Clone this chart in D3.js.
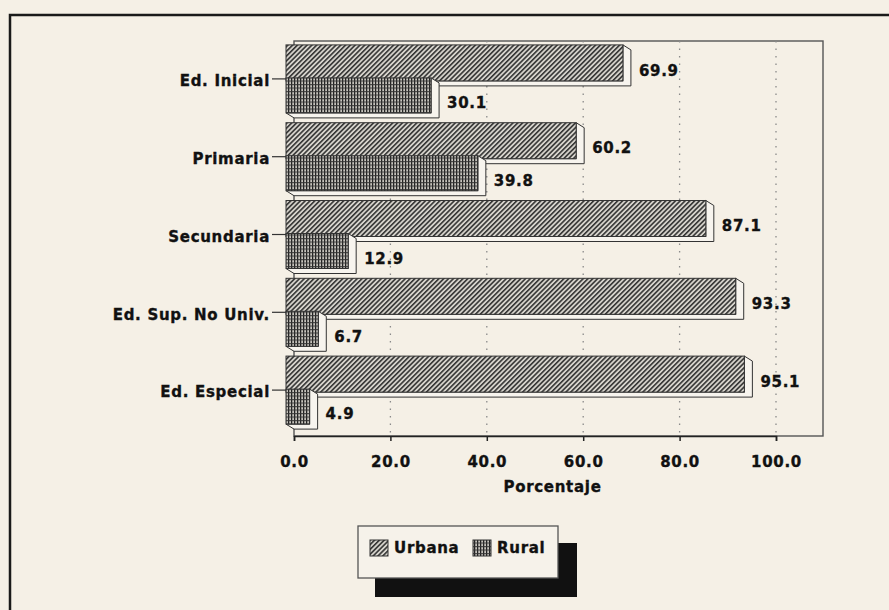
<!DOCTYPE html>
<html lang="es">
<head>
<meta charset="UTF-8" />
<title>Urbana / Rural por nivel</title>
<script src="https://d3js.org/d3.v7.min.js"></script>
<style>
  body { margin: 0; background: #f5f0e6; }
  svg { display: block; }
  text {
    font-family: "DejaVu Sans", sans-serif;
    font-weight: bold;
    font-size: 15px;
    letter-spacing: 0.7px;
    fill: #111;
    stroke: #111;
    stroke-width: 0.35px;
  }
</style>
</head>
<body>
<svg id="chart" width="889" height="610"></svg>
<script>
// data
const categories = ["Ed. Inicial", "Primaria", "Secundaria", "Ed. Sup. No Univ.", "Ed. Especial"];
const series = ["Urbana", "Rural"];
const urbana = [69.9, 60.2, 87.1, 93.3, 95.1];
const rural = [30.1, 39.8, 12.9, 6.7, 4.9];
const ticks = [0, 20, 40, 60, 80, 100];

const W = 889, H = 610;
const plot = { left: 294, right: 823, top: 41, bottom: 436 };
const depth = { dx: 8, dy: 5 };   // 3d offset front -> back
const barH = 36;

const svg = d3.select("#chart");
const defs = svg.append("defs");

// diagonal hatch for urbana
const pU = defs.append("pattern")
  .attr("id", "pat-urbana")
  .attr("patternUnits", "userSpaceOnUse")
  .attr("width", 3.4).attr("height", 3.4)
  .attr("patternTransform", "rotate(45)");
pU.append("rect").attr("width", 3.4).attr("height", 3.4).attr("fill", "#d6d3cc");
pU.append("line").attr("x1", 0.8).attr("x2", 0.8).attr("y1", 0).attr("y2", 3.4)
  .attr("stroke", "#2a2a2a").attr("stroke-width", 1.5);

// grid hatch for rural
const pR = defs.append("pattern")
  .attr("id", "pat-rural")
  .attr("patternUnits", "userSpaceOnUse")
  .attr("width", 3).attr("height", 3.5);
pR.append("rect").attr("width", 3).attr("height", 3.5).attr("fill", "#c8c5be");
pR.append("line").attr("x1", 0.6).attr("x2", 0.6).attr("y1", 0).attr("y2", 3.5)
  .attr("stroke", "#222").attr("stroke-width", 1.3);
pR.append("line").attr("x1", 0).attr("x2", 3).attr("y1", 0.6).attr("y2", 0.6)
  .attr("stroke", "#333").attr("stroke-width", 1);

const fills = { Urbana: "url(#pat-urbana)", Rural: "url(#pat-rural)" };

// outer page frame (only top and left show)
svg.append("path")
  .attr("d", `M10,${H} L10,15 L${W},15`)
  .attr("fill", "none").attr("stroke", "#1a1a1a").attr("stroke-width", 2.5);

const x = d3.scaleLinear().domain([0, 100]).range([plot.left, plot.left + 482]);
const y = d3.scaleBand().domain(categories).range([plot.top + 1, plot.bottom - 5]);

// back wall frame
svg.append("rect")
  .attr("x", plot.left).attr("y", plot.top)
  .attr("width", plot.right - plot.left).attr("height", plot.bottom - plot.top)
  .attr("fill", "none").attr("stroke", "#555").attr("stroke-width", 1.4);

// dotted grid
svg.append("g").selectAll("line")
  .data(ticks.slice(1))
  .join("line")
  .attr("x1", d => x(d)).attr("x2", d => x(d))
  .attr("y1", plot.top).attr("y2", plot.bottom)
  .attr("stroke", "#8a8a8a").attr("stroke-width", 1.3)
  .attr("stroke-dasharray", "1.5,6");

// bottom axis
const axis = svg.append("g").attr("transform", `translate(0,${plot.bottom})`)
  .call(d3.axisBottom(x).tickValues(ticks).tickFormat(d3.format(".1f")).tickSize(5).tickPadding(15));
axis.select(".domain").attr("stroke", "#222").attr("stroke-width", 1.5);
axis.selectAll(".tick line").attr("stroke", "#222").attr("stroke-width", 1.5);
axis.selectAll("text")
  .style("font-family", "DejaVu Sans, sans-serif")
  .style("font-weight", "bold").style("font-size", "15px")
  .style("letter-spacing", "0.7px").attr("fill", "#111");

svg.append("text")
  .attr("x", (plot.left + plot.right) / 2 - 6).attr("y", 492)
  .attr("text-anchor", "middle")
  .text("Porcentaje");

// bars
const rows = categories.map((c, i) => ({ cat: c, values: [urbana[i], rural[i]] }));
const barTop = (cat, s) => y(cat) + y.bandwidth() / 2 + (s === 0 ? -barH : -3);

const barG = svg.append("g");
rows.forEach(row => {
  row.values.forEach((v, s) => {
    const x0 = x(0) - depth.dx, x1 = x(v) - depth.dx;
    const y0 = barTop(row.cat, s), y1 = y0 + barH - (s === 0 ? 0 : 1);
    const g = barG.append("g");
    // side / bottom extrusion
    g.append("path")
      .attr("d", `M${x1},${y0} L${x1 + depth.dx},${y0 + depth.dy} L${x1 + depth.dx},${y1 + depth.dy}
                  L${x0 + depth.dx},${y1 + depth.dy} L${x0},${y1} L${x1},${y1} Z`)
      .attr("fill", "#f7f4ee").attr("stroke", "#333").attr("stroke-width", 1);
    g.append("rect")
      .attr("x", x0).attr("y", y0)
      .attr("width", x1 - x0).attr("height", y1 - y0)
      .attr("fill", fills[series[s]])
      .attr("stroke", "#333").attr("stroke-width", 1);
    g.append("text")
      .attr("x", x(v) + 8)
      .attr("y", (y0 + y1 + depth.dy) / 2 + 5)
      .attr("dy", "0.35em")
      .text(d3.format(".1f")(v));
  });
});

// category labels + ticks
const catG = svg.append("g");
categories.forEach(c => {
  const cy = y(c) + y.bandwidth() / 2 - 2;
  catG.append("line")
    .attr("x1", 272).attr("x2", x(0) - depth.dx)
    .attr("y1", cy).attr("y2", cy)
    .attr("stroke", "#333").attr("stroke-width", 1.2);
  catG.append("text")
    .attr("x", 270).attr("y", cy + 2)
    .attr("text-anchor", "end").attr("dy", "0.35em")
    .text(c);
});

// legend with drop shadow
const lg = svg.append("g");
lg.append("rect").attr("x", 375).attr("y", 543).attr("width", 202).attr("height", 54).attr("fill", "#111");
lg.append("rect").attr("x", 358).attr("y", 526).attr("width", 200).attr("height", 52)
  .attr("fill", "#f6f2ea").attr("stroke", "#555").attr("stroke-width", 1.3);
const lx = d3.scalePoint().domain(series).range([370, 473]);
series.forEach(s => {
  lg.append("rect").attr("x", lx(s)).attr("y", 540).attr("width", 18).attr("height", 16)
    .attr("fill", fills[s]).attr("stroke", "#333");
  lg.append("text").attr("x", lx(s) + 24).attr("y", 548).attr("dy", "0.35em").text(s);
});
</script>
</body>
</html>
